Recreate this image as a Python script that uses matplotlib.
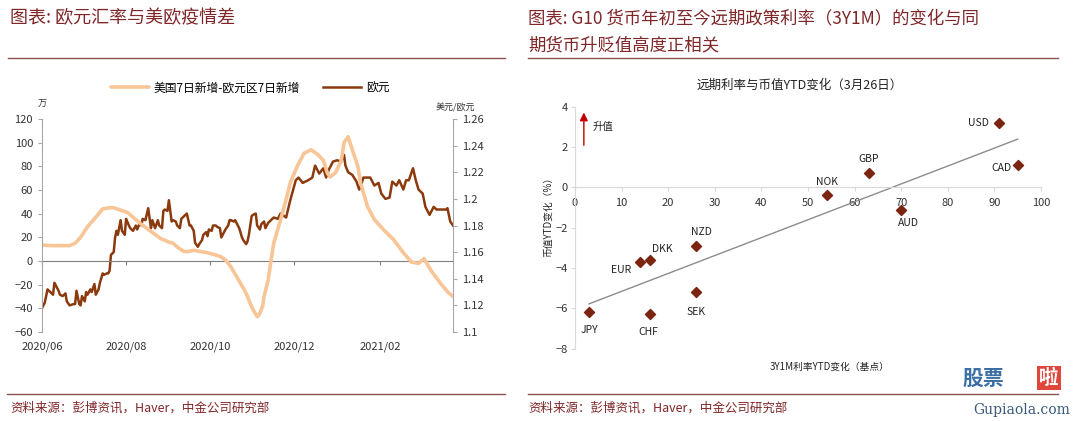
import numpy as np
import pandas as pd
import matplotlib
matplotlib.use("Agg")
import matplotlib.pyplot as plt
from matplotlib.lines import Line2D

plt.rcParams['font.family'] = ['Noto Sans CJK SC', 'DejaVu Sans']

start = pd.Timestamp('2020-06-01')
end = pd.Timestamp('2021-03-26')

# 欧元 (美元/欧元), days since 2020-06-01
eur_days = [0, 2, 4, 6, 8, 9, 12, 13, 15, 17,
            18, 20, 23, 24, 25, 27, 28, 29, 31, 32,
            33, 35, 36, 38, 39, 41, 42, 44, 45, 47,
            48, 49, 50, 52, 53, 54, 55, 57, 58, 60,
            61, 63, 64, 66, 68, 69, 71, 72, 73, 75,
            77, 79, 80, 82, 84, 85, 87, 88, 89, 91,
            92, 94, 95, 97, 98, 100, 101, 103, 105, 107,
            108, 110, 111, 113, 114, 116, 117, 119, 120, 121,
            123, 124, 126, 127, 129, 130, 132, 133, 135, 136,
            137, 139, 140, 142, 143, 145, 146, 148, 149, 150,
            152, 153, 155, 156, 158, 159, 161, 162, 164, 168,
            171, 173, 177, 180, 184, 186, 189, 193, 196, 198,
            201, 204, 206, 208, 211, 214, 217, 219, 220, 222,
            225, 228, 230, 231, 233, 238, 241, 244, 246, 249,
            252, 254, 257, 259, 262, 264, 266, 269, 271, 273,
            276, 278, 281, 284, 286, 289, 293, 294, 296, 298]
eur_vals = [1.118, 1.122, 1.132, 1.130, 1.128, 1.137, 1.131, 1.128, 1.127, 1.129,
            1.123, 1.120, 1.121, 1.121, 1.131, 1.121, 1.120, 1.127, 1.123, 1.130,
            1.128, 1.132, 1.130, 1.136, 1.128, 1.132, 1.137, 1.144, 1.143, 1.144,
            1.144, 1.146, 1.158, 1.160, 1.171, 1.176, 1.173, 1.184, 1.176, 1.173,
            1.185, 1.180, 1.178, 1.176, 1.180, 1.177, 1.182, 1.180, 1.185, 1.184,
            1.193, 1.178, 1.184, 1.178, 1.184, 1.180, 1.178, 1.191, 1.192, 1.191,
            1.199, 1.183, 1.184, 1.183, 1.180, 1.178, 1.185, 1.187, 1.189, 1.180,
            1.180, 1.176, 1.167, 1.164, 1.166, 1.169, 1.173, 1.175, 1.172, 1.177,
            1.176, 1.180, 1.180, 1.179, 1.178, 1.171, 1.175, 1.177, 1.180, 1.184,
            1.184, 1.183, 1.184, 1.180, 1.178, 1.171, 1.169, 1.166, 1.168, 1.173,
            1.187, 1.188, 1.189, 1.180, 1.177, 1.181, 1.183, 1.178, 1.182, 1.186,
            1.185, 1.189, 1.186, 1.199, 1.214, 1.216, 1.212, 1.214, 1.216, 1.225,
            1.219, 1.223, 1.216, 1.222, 1.228, 1.229, 1.228, 1.233, 1.225, 1.220,
            1.218, 1.213, 1.207, 1.209, 1.216, 1.216, 1.210, 1.212, 1.204, 1.200,
            1.201, 1.213, 1.210, 1.214, 1.207, 1.214, 1.214, 1.223, 1.214, 1.207,
            1.204, 1.194, 1.188, 1.194, 1.192, 1.192, 1.192, 1.193, 1.183, 1.180]

# 美国7日新增-欧元区7日新增 (万)
gap_days = [0, 6, 13, 20, 24, 28, 33, 39, 44, 49,
            52, 57, 62, 66, 71, 79, 86, 92, 95, 99,
            103, 106, 110, 115, 120, 126, 129, 133, 137, 140,
            144, 147, 149, 151, 153, 156, 157, 158, 160, 161,
            164, 166, 168, 171, 173, 177, 180, 185, 190, 195,
            200, 204, 207, 209, 213, 217, 219, 222, 225, 229,
            231, 236, 241, 248, 255, 262, 268, 273, 277, 282,
            289, 294, 298]
gap_vals = [13.5, 13, 13, 13, 15, 20, 29, 37, 44, 45,
            45, 43, 41, 37, 32, 25, 19, 16, 15, 11,
            8, 8, 9, 8, 7, 5, 4, 1, -5, -11,
            -19, -25, -30, -36, -41, -47, -46, -44, -38, -30,
            -16, 0, 15, 27, 35, 52, 66, 80, 91, 94,
            90, 85, 74, 71, 75, 85, 100, 105, 94, 80,
            66, 46, 35, 26, 18, 7, -1, -2, 2, -8,
            -19, -26, -30]

tick_dates = ['2020-06-01', '2020-08-01', '2020-10-01', '2020-12-01', '2021-02-01']
tick_labels = ['2020/06', '2020/08', '2020/10', '2020/12', '2021/02']

# G10 scatter
ccy = ['JPY', 'CHF', 'EUR', 'DKK', 'NZD', 'SEK', 'NOK', 'GBP', 'AUD', 'USD', 'CAD']
rate_chg = [3, 16, 14, 16, 26, 26, 54, 63, 70, 91, 95]
fx_chg = [-6.2, -6.3, -3.7, -3.6, -2.9, -5.2, -0.4, 0.7, -1.1, 3.2, 1.1]
label_off = {'JPY': (0, -13), 'CHF': (-1, -13), 'EUR': (-14, -6), 'DKK': (9, 8),
             'NZD': (4, 10), 'SEK': (0, -14), 'NOK': (0, 10), 'GBP': (0, 10),
             'AUD': (5, -10), 'USD': (-15, 0), 'CAD': (-12, -2)}

title_c = '#7F2628'
orange = '#F7C596'
brown = '#8B3A0E'
grey = '#A6A6A6'

fig = plt.figure(figsize=(10.8, 4.21), dpi=100)
W, H = 1080, 421

def box(x0, x1, ytop, ybot):
    return [x0 / W, 1 - ybot / H, (x1 - x0) / W, (ybot - ytop) / H]

# ---------- left chart ----------
ax = fig.add_axes(box(42, 453, 119, 332))
ax2 = ax.twinx()
eur_dates = start + pd.to_timedelta(eur_days, unit='D')
gap_dates = start + pd.to_timedelta(gap_days, unit='D')
l1, = ax.plot(gap_dates, gap_vals, color=orange, lw=2.6, solid_capstyle='round')
l2, = ax2.plot(eur_dates, eur_vals, color=brown, lw=1.8)
ax.set_zorder(ax2.get_zorder() + 1)
ax.patch.set_visible(False)

ax.set_xlim(start, end)
ax.set_ylim(-60, 120)
ax.set_yticks(range(-60, 121, 20))
ax2.set_ylim(1.1, 1.26)
ax2.set_yticks(np.arange(1.10, 1.261, 0.02))
ax2.set_yticklabels([f'{v:g}' for v in np.round(np.arange(1.10, 1.261, 0.02), 2)])
ax.set_xticks(pd.to_datetime(tick_dates))
ax.set_xticklabels(tick_labels)
ax.tick_params(axis='x', length=0, labelsize=8, pad=7, colors='#333333')
ax.tick_params(axis='y', length=3, labelsize=8, color=grey, labelcolor='#333333')
ax2.tick_params(axis='y', length=3, labelsize=8, color=grey, labelcolor='#333333')
for a in (ax, ax2):
    a.spines['top'].set_visible(False)
    a.spines['bottom'].set_visible(False)
ax.spines['right'].set_visible(False)
ax2.spines['left'].set_visible(False)
ax.spines['left'].set_color(grey)
ax2.spines['right'].set_color(grey)
ax.axhline(0, color='#7F7F7F', lw=0.8, zorder=1)
sec = ax.secondary_xaxis(60 / 180)
sec.set_xticks(pd.to_datetime(tick_dates))
sec.set_xticklabels([''] * len(tick_dates))
sec.tick_params(length=3, color='#7F7F7F')
sec.spines['bottom'].set_visible(False)

fig.legend([l1, l2], ['美国7日新增-欧元区7日新增', '欧元'], loc='center',
           bbox_to_anchor=(250 / W, 1 - 88 / H), ncol=2, frameon=False,
           fontsize=8.5, handlelength=3.2, columnspacing=2.0, handletextpad=0.4)
fig.text(42 / W, 1 - 104 / H, '万', fontsize=6.5, ha='center', va='center', color='#333333')
fig.text(455 / W, 1 - 108 / H, '美元/欧元', fontsize=6.5, ha='center', va='center', color='#333333')

# ---------- right chart ----------
ax3 = fig.add_axes(box(575, 1041, 106.7, 348.7))
ax3.scatter(rate_chg, fx_chg, marker='D', s=26, color='#7B2410', zorder=3)
k, b = np.polyfit(rate_chg, fx_chg, 1)
xx = np.array([min(rate_chg), max(rate_chg)])
ax3.plot(xx, k * xx + b, color='#8C8C8C', lw=1.0, zorder=2)
for c, x, y in zip(ccy, rate_chg, fx_chg):
    ax3.annotate(c, (x, y), xytext=label_off[c], textcoords='offset points',
                 ha='center', va='center', fontsize=7.5, color='#222222')
ax3.set_xlim(0, 100)
ax3.set_ylim(-8, 4)
ax3.set_xticks(range(0, 101, 10))
ax3.set_yticks(range(-8, 5, 2))
ax3.spines['top'].set_visible(False)
ax3.spines['right'].set_visible(False)
ax3.spines['bottom'].set_position(('data', 0))
ax3.spines['bottom'].set_color('#D9D9D9')
ax3.spines['left'].set_color('#D9D9D9')
ax3.tick_params(axis='both', length=3, color='#D9D9D9', labelsize=8, labelcolor='#333333')
ax3.tick_params(axis='x', pad=5)
ax3.tick_params(axis='y', pad=2)
ax3.annotate('', xy=(1.9, 3.85), xytext=(1.9, 1.95),
             arrowprops=dict(arrowstyle='-|>', color='#C00000', lw=1.0, mutation_scale=12))
ax3.text(3.8, 3.0, '升值', fontsize=7.5, va='center', ha='left', color='#222222')

fig.text(800 / W, 1 - 85 / H, '远期利率与币值YTD变化（3月26日）', fontsize=9,
         ha='center', va='center', color='#222222')
fig.text(548 / W, 1 - 214 / H, '币值YTD变化（%）', fontsize=7, rotation=90,
         ha='center', va='center', color='#222222')
fig.text(830 / W, 1 - 367 / H, '3Y1M利率YTD变化（基点）', fontsize=7,
         ha='center', va='center', color='#222222')

# ---------- headers / footers ----------
fig.text(10 / W, 1 - 18 / H, '图表: 欧元汇率与美欧疫情差', fontsize=13, color=title_c,
         ha='left', va='center', style='italic')
fig.text(528 / W, 1 - 18 / H, '图表: G10 货币年初至今远期政策利率（3Y1M）的变化与同',
         fontsize=12.5, color=title_c, ha='left', va='center', style='italic')
fig.text(528 / W, 1 - 45 / H, '期货币升贬值高度正相关', fontsize=12.5, color=title_c,
         ha='left', va='center', style='italic')
for x0, x1, y in [(8, 505, 58), (528, 1058, 58), (7, 505, 394), (528, 1058, 394)]:
    fig.add_artist(Line2D([x0 / W, x1 / W], [1 - y / H] * 2, color='#8B5050', lw=1.0))
src = '资料来源：彭博资讯，Haver，中金公司研究部'
fig.text(10 / W, 1 - 408 / H, src, fontsize=9, color=title_c, ha='left', va='center', style='italic')
fig.text(528 / W, 1 - 408 / H, src, fontsize=9, color=title_c, ha='left', va='center', style='italic')

# watermark
fig.text(983 / W, 1 - 378 / H, '股票', fontsize=15, fontweight='bold', color='#3A6EA5',
         ha='center', va='center', bbox=dict(facecolor='white', edgecolor='none', pad=1))
fig.text(1049 / W, 1 - 378 / H, '啦', fontsize=14, fontweight='bold', color='white',
         ha='center', va='center', bbox=dict(facecolor='#E0463A', edgecolor='none', pad=1.5))
fig.text(1022 / W, 1 - 410 / H, 'Gupiaola.com', fontsize=10, family='DejaVu Serif',
         color='#3A5A7A', ha='center', va='center')

fig.savefig('out.png', dpi=100)
